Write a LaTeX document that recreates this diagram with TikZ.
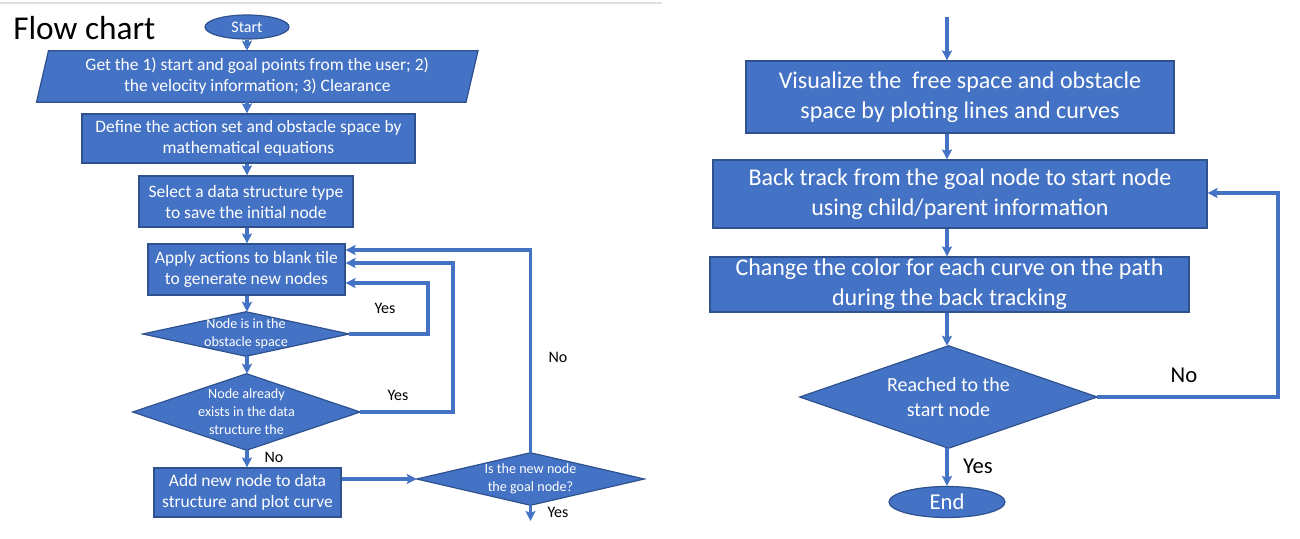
\documentclass[tikz,border=0pt]{standalone}
\usepackage{fontspec}
\setmainfont{Carlito}
\usetikzlibrary{arrows.meta,shapes.geometric,calc,backgrounds}
\definecolor{obl}{HTML}{4472C4}
\definecolor{obd}{HTML}{2F528F}
\begin{document}
\begin{tikzpicture}[x=0.75pt,y=-0.75pt,
  box/.style={rectangle,fill=obl,draw=obd,line width=0.9pt,text=white,align=center,inner sep=0pt},
  lfont/.style={font=\fontsize{13.1}{15.75}\selectfont},
  rfont/.style={font=\fontsize{18}{22.5}\selectfont},
  dfont/.style={font=\fontsize{10.6}{13.5}\selectfont},
  ghost/.style={rectangle,inner sep=0pt,text=white,align=center},
  shapefill/.style={fill=obl,draw=obd,line width=0.9pt},
  conn/.style={draw=obl,line width=2.4pt,-{Stealth[length=7.5pt,width=7.5pt,inset=1.5pt]}},
  lab/.style={text=black,inner sep=0pt},
  slab/.style={lab,font=\fontsize{12}{14}\selectfont},
  blab/.style={lab,font=\fontsize{17}{20}\selectfont},
  term/.style={ellipse,fill=obl,draw=obd,line width=0.9pt,text=white,inner sep=0pt}]
\useasboundingbox (0,0) rectangle (1300,539);
\draw[gray!25,line width=1.2pt] (0,3) -- (662,3);

% ---------- left chart ----------
\node[lab,font=\fontsize{25}{30}\selectfont,anchor=base west] (title) at (13,40) {Flow chart};
\node[term,minimum width={84*0.75pt},minimum height={24*0.75pt},font=\fontsize{12}{14}\selectfont] (start) at (247,27) {Start};
\node[ghost,lfont,minimum width={429*0.75pt},minimum height={51*0.75pt}] (para) at (257.25,76.5)
  {Get the 1) start and goal points from the user; 2)\\the velocity information; 3) Clearance};
\node[box,lfont,minimum width={333*0.75pt},minimum height={49*0.75pt}] (box2) at (248.5,138.5)
  {Define the action set and obstacle space by\\mathematical equations};
\node[box,lfont,minimum width={214*0.75pt},minimum height={51*0.75pt}] (sel) at (246,201.5)
  {Select a data structure type\\to save the initial node};
\node[box,lfont,minimum width={197*0.75pt},minimum height={51*0.75pt}] (apply) at (246.5,269.5)
  {Apply actions to blank tile\\to generate new nodes};
\node[ghost,dfont,minimum width={206*0.75pt},minimum height={44*0.75pt}] (d1) at (246,334)
  {Node is in the\\obstacle space};
\node[ghost,dfont,minimum width={227*0.75pt},minimum height={76*0.75pt}] (d2) at (246.5,412)
  {Node already\\exists in the data\\structure the};
\node[box,lfont,minimum width={187*0.75pt},minimum height={49*0.75pt}] (box5) at (247.5,492.5)
  {Add new node to data\\structure and plot curve};
\node[ghost,dfont,minimum width={227*0.75pt},minimum height={52*0.75pt}] (d3) at (530.5,479)
  {Is the new node\\the goal node?};

% ---------- right chart ----------
\coordinate (rtop) at (947,17);
\node[box,rfont,minimum width={428*0.75pt},minimum height={72*0.75pt}] (r1) at (960,97)
  {Visualize the\ \ free space and obstacle\\space by ploting lines and curves};
\node[box,rfont,minimum width={494*0.75pt},minimum height={68*0.75pt}] (r2) at (960,194)
  {Back track from the goal node to start node\\using child/parent information};
\node[box,rfont,minimum width={479*0.75pt},minimum height={55*0.75pt}] (r3) at (949.5,284.5)
  {Change the color for each curve on the path\\during the back tracking};
\node[ghost,font=\fontsize{15}{18.75}\selectfont,minimum width={297*0.75pt},minimum height={102*0.75pt}] (dr) at (948.5,397)
  {Reached to the\\start node};
\node[term,minimum width={116*0.75pt},minimum height={31*0.75pt},font=\fontsize{17}{20}\selectfont] (end) at (947,502) {End};

% ---------- shapes behind text ----------
\begin{scope}[on background layer]
  \fill[white] (0,0) rectangle (1300,539);
  \draw[shapefill] ($(para.south west)+(-6,0)$) -- ($(para.north west)+(6,0)$) -- ($(para.north east)+(6,0)$) -- ($(para.south east)+(-6,0)$) -- cycle;
  \foreach \d in {d1,d2,d3,dr}{
    \draw[shapefill] (\d.west) -- (\d.north) -- (\d.east) -- (\d.south) -- cycle;
  }
\end{scope}

% ---------- connectors left ----------
\draw[conn] (start.south) -- (start.south |- para.north);
\draw[conn] (para.south -| start) -- (box2.north -| start);
\draw[conn] (box2.south -| start) -- (sel.north -| start);
\draw[conn] (sel.south -| start) -- (apply.north -| start);
\draw[conn] (apply.south -| start) -- (d1.north -| start);
\draw[conn] (d1.south -| start) -- (d2.north -| start);
\draw[conn] (d2.south -| start) -- (box5.north -| start);
\draw[conn] (box5.east |- d3.west) -- (d3.west);
\coordinate (d3out) at (530.5,521);
\draw[conn] (d3.south) -- (d3out);
\coordinate (l1) at (428,283);
\coordinate (l2) at (453,263);
\coordinate (l3) at (530.5,250);
\draw[conn] (d1.east) -| (l1) -- (apply.east |- l1);
\draw[conn] (d2.east) -| (l2) -- (apply.east |- l2);
\draw[conn] (d3.north) |- (apply.east |- l3);

\node[slab] (y1) at (385,308) {Yes};
\node[slab] (y2) at (398,395) {Yes};
\node[slab] (n1) at (558,357) {No};
\node[slab] (n2) at (274,457) {No};
\node[slab] (y3) at (558,512) {Yes};

% ---------- connectors right ----------
\draw[conn] (rtop) -- (rtop |- r1.north);
\draw[conn] (r1.south -| rtop) -- (r2.north -| rtop);
\draw[conn] (r2.south -| rtop) -- (r3.north -| rtop);
\draw[conn] (r3.south -| rtop) -- (dr.north -| rtop);
\draw[conn] (dr.south -| rtop) -- (end.north);
\coordinate (rl) at (1278,193);
\draw[conn] (dr.east) -| (rl) -- (r2.east |- rl);

\node[blab] (n3) at (1184,375) {No};
\node[blab] (y4) at (978,466) {Yes};
\end{tikzpicture}
\end{document}
